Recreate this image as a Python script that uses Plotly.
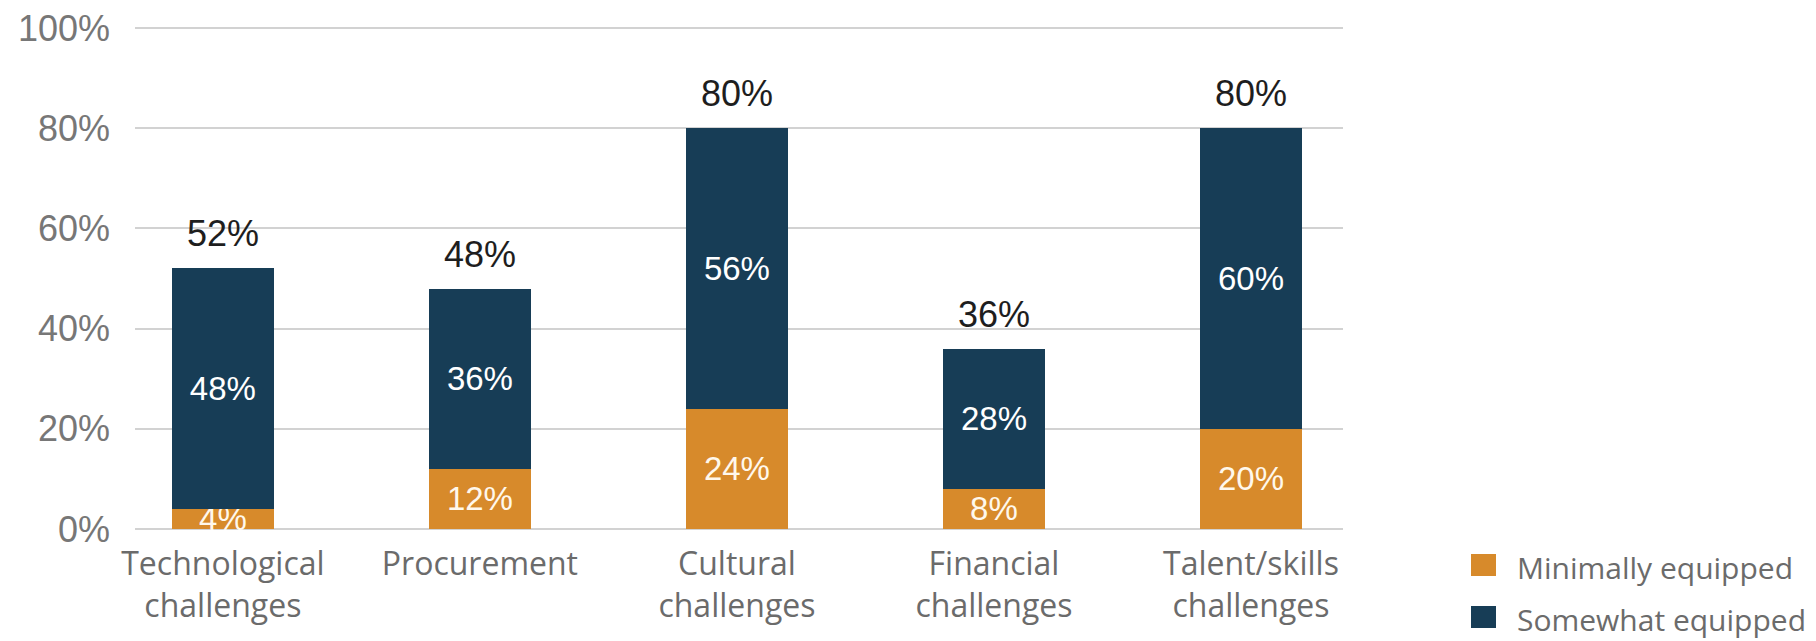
import plotly.graph_objects as go

categories = ["Technological<br>challenges", "Procurement", "Cultural<br>challenges",
              "Financial<br>challenges", "Talent/skills<br>challenges"]
minimally = [4, 12, 24, 8, 20]
somewhat = [48, 36, 56, 28, 60]
totals = [52, 48, 80, 36, 80]
y_ticks = [0, 20, 40, 60, 80, 100]
y_ticklabels = ["0%", "20%", "40%", "60%", "80%", "100%"]
series_names = ["Minimally equipped", "Somewhat equipped"]

ORANGE = "#D78A2B"
NAVY = "#173D56"
W, H = 1816, 641
L, R, T, B = 135, 1343, 24, 529
Y_TOP = 100.8

fig = go.Figure()
fig.add_trace(go.Bar(
    x=categories, y=minimally, name=series_names[0], marker_color=ORANGE,
    marker_line_width=0, width=0.4,
    text=[f"{v}%" for v in minimally], textposition="inside", insidetextanchor="middle",
    textangle=0, constraintext="none",
    textfont=dict(family="Liberation Sans, Arial", size=33, color="#FFF8EC"),
    showlegend=False, cliponaxis=False,
))
fig.add_trace(go.Bar(
    x=categories, y=somewhat, name=series_names[1], marker_color=NAVY,
    marker_line_width=0, width=0.4,
    text=[f"{v}%" for v in somewhat], textposition="inside", insidetextanchor="middle",
    textangle=0, constraintext="none",
    textfont=dict(family="Liberation Sans, Arial", size=33, color="#FFFFFF"),
    showlegend=False, cliponaxis=False,
))

for c, t in zip(categories, totals):
    fig.add_annotation(x=c, y=t, text=f"{t}%", showarrow=False, yanchor="bottom",
                       yshift=12, font=dict(family="Liberation Sans, Arial", size=36, color="#1e1e1e"))

# legend drawn manually (larger swatches than the built-in legend allows)
def px_x(p):
    return (p - L) / (R - L)

def px_y(p):
    return (B - p) / (B - T)

legend_rows = [(565, ORANGE, series_names[0]), (617, NAVY, series_names[1])]
for cy, col, name in legend_rows:
    fig.add_shape(type="rect", xref="paper", yref="paper",
                  x0=px_x(1471), x1=px_x(1496), y0=px_y(cy + 11), y1=px_y(cy - 11),
                  fillcolor=col, line_width=0)
    fig.add_annotation(xref="paper", yref="paper", x=px_x(1515), y=px_y(cy + 2),
                       text=name, showarrow=False, xanchor="left", yanchor="middle",
                       font=dict(family="Open Sans", size=30, color="#6b6b6b"))

fig.update_layout(
    width=W, height=H,
    margin=dict(l=L, r=W - R, t=T, b=H - B, autoexpand=False),
    barmode="stack",
    plot_bgcolor="white", paper_bgcolor="white",
    showlegend=False,
)
fig.update_xaxes(
    range=[-0.342, 4.358], showgrid=False, showline=False, ticks="",
    tickfont=dict(family="Open Sans", size=32, color="#6b6b6b"),
    ticklabelstandoff=13, automargin=False,
)
fig.update_yaxes(
    range=[0, Y_TOP], tickvals=y_ticks, ticktext=y_ticklabels,
    showgrid=True, gridcolor="#d2d2d2", gridwidth=2,
    zeroline=True, zerolinecolor="#d2d2d2", zerolinewidth=2,
    showline=False, ticks="",
    tickfont=dict(family="Liberation Sans, Arial", size=36, color="#777777"),
    ticklabelstandoff=24, automargin=False,
)

fig.write_html(
    "out.html",
    config={"displayModeBar": False},
    post_script="document.body.style.margin='0';document.body.style.overflow='hidden';",
)
